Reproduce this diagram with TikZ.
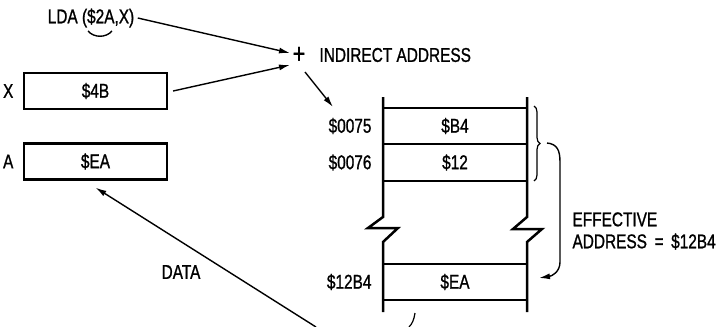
\documentclass[tikz,border=0pt]{standalone}
\usepackage{fontspec}
\setmainfont{Liberation Sans}[FakeStretch=0.77,FakeBold=1]
\usepackage{tikz}
\usetikzlibrary{positioning,arrows.meta,decorations.pathreplacing}

\begin{document}
\begin{tikzpicture}[x=1pt,y=-1pt,font=\fontsize{20}{22}\selectfont,
    reg/.style={draw, line width=2.2pt, minimum width=143pt, minimum height=36pt, inner sep=0pt},
    cell/.style={draw, line width=2pt, minimum width=144pt, minimum height=36.5pt, inner sep=0pt},
    ptr/.style={-{Latex[length=11pt,width=6pt]}, line width=1.4pt}]
    \useasboundingbox (0,0) rectangle (724,327);

                    \node (lda) at (91,18) {LDA (\$2A,X)};
                    \draw[line width=1.4pt] (88,31) .. controls (94,38) and (106,38) .. (112,31);

                    \node[reg] (xreg) at (95.5,91) {\$4B};
                    \node[left=6pt of xreg] (xlab) {X};
                    \node[reg] (areg) at (95.5,161.5) {\$EA};
                    \node[left=6pt of areg] (alab) {A};

                    \node[font=\fontsize{28}{30}\selectfont] (plus) at (299,55) {+};
                    \node[anchor=west] (ind) at (316,55) {INDIRECT ADDRESS};
                    \coordinate (in1) at (290,53);
                    \coordinate (in2) at (290,65);
                    \coordinate (out) at (305,72);
                    \coordinate (ptr75) at (333,107);

                    \node[cell] (b4) at (455,126) {\$B4};
                    \node[cell] (c12) at (455,162.5) {\$12};
                    \node[cell] (cea) at (455,282) {\$EA};
                    \node[left=7pt of b4] (m75) {\$0075};
                    \node[left=7pt of c12] (m76) {\$0076};
                    \node[left=7pt of cea] (m12b4) {\$12B4};

                    \draw[line width=2.5pt] (383,97) -- (383,217) -- (368,228) -- (398,228) -- (383,242) -- (383,312);
                    \draw[line width=2.5pt] (527,97) -- (527,217) -- (513,229) -- (542,229) -- (527,242) -- (527,312);

                    \draw[line width=1.2pt, decorate, decoration={brace, amplitude=6pt}] (534,106) -- (534,181);
                    \coordinate (brc) at (547,143);
                    \node[anchor=west, align=left] (eff) at (569,231) {EFFECTIVE\\ADDRESS \,=\, \$12B4};

                    \node (data) at (181,272) {DATA};
                    \coordinate (dtail) at (316,327);
                    \draw[line width=1.2pt] (415,313) .. controls (414,320) and (412,324) .. (409,327);

                    \path[ptr] (lda.east) edge (in1);
                    \path[ptr] ([xshift=5pt]xreg.east) edge (in2);
                    \path[ptr] (out) edge (ptr75);
                    \draw[ptr] (brc) .. controls (557,144) and (560,150) .. (560,162) -- (560,262)
                        .. controls (560,272) and (552,276) .. ([xshift=11pt,yshift=4pt]cea.east);
                    \path[ptr] (dtail) edge ([yshift=-7pt]areg.south);
                \end{tikzpicture}
\end{document}
